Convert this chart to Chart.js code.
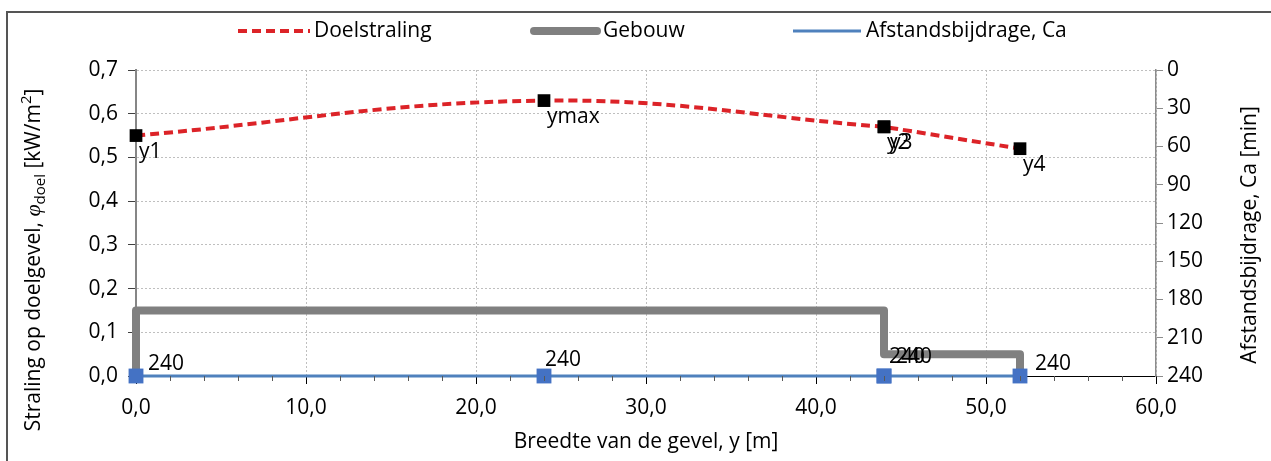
<!DOCTYPE html>
<html>
<head>
<meta charset="utf-8">
<script src="https://cdn.jsdelivr.net/npm/chart.js@4/dist/chart.umd.min.js"></script>
<style>
  html, body { margin: 0; padding: 0; background: #fff; }
  #wrap { width: 1271px; height: 461px; position: relative; }
</style>
</head>
<body>
<div id="wrap"><canvas id="grafiek"></canvas></div>
<script>
// Meetpunten langs de gevel
const breedte = [0, 24, 44, 44, 52];
const puntNamen = ['y1', 'ymax', 'y2', 'y3', 'y4'];
const doelstraling = [0.55, 0.63, 0.57, 0.57, 0.52];
const afstandsbijdrage = [240, 240, 240, 240, 240];

// Contour van het gebouw
const gebouwBreedte = [0, 0, 44, 44, 52, 52];
const gebouwHoogte = [0, 0.15, 0.15, 0.05, 0.05, 0];

// Asverdeling
const xTickWaarden = [0, 10, 20, 30, 40, 50, 60];
const yLinksTickWaarden = [0, 0.1, 0.2, 0.3, 0.4, 0.5, 0.6, 0.7];
const yRechtsTickWaarden = [0, 30, 60, 90, 120, 150, 180, 210, 240];

const FONT = '"Open Sans", Lato, sans-serif';
const FS = 21;
const ROOD = '#DC2328';
const GRIJS = '#808080';
const BLAUW = '#4F81BD';
const BLAUW_MARKER = '#4472C4';

const komma = (v, d) => v.toFixed(d).replace('.', ',');

const doelPunten = breedte.map((x, i) => ({ x, y: doelstraling[i] }));
const caPunten = breedte.map((x, i) => ({ x, y: afstandsbijdrage[i] }));
const gebouwPunten = gebouwBreedte.map((x, i) => ({ x, y: gebouwHoogte[i] }));

// Kader rond de figuur
const kader = {
  id: 'kader',
  beforeDraw(chart) {
    const ctx = chart.ctx;
    ctx.save();
    ctx.fillStyle = '#fff';
    ctx.fillRect(0, 0, chart.width, chart.height);
    ctx.strokeStyle = '#555';
    ctx.lineWidth = 2;
    ctx.beginPath();
    ctx.moveTo(7, chart.height);
    ctx.lineTo(7, 12);
    ctx.lineTo(chart.width, 12);
    ctx.stroke();
    ctx.restore();
  }
};

// Kleine streepjes op de x-as
const hulpStreepjes = {
  id: 'hulpStreepjes',
  afterDraw(chart) {
    const s = chart.scales.x;
    const ctx = chart.ctx;
    ctx.save();
    ctx.strokeStyle = '#595959';
    ctx.lineWidth = 1;
    for (let v = s.min; v <= s.max; v += 2) {
      if (v % 10 === 0) continue;
      const px = Math.round(s.getPixelForValue(v)) + 0.5;
      ctx.beginPath();
      ctx.moveTo(px, s.top);
      ctx.lineTo(px, s.top + 5);
      ctx.stroke();
    }
    ctx.restore();
  }
};

// Labels bij de punten
const puntLabels = {
  id: 'puntLabels',
  afterDatasetsDraw(chart, args, opts) {
    const ctx = chart.ctx;
    ctx.save();
    ctx.font = FS + 'px ' + FONT;
    ctx.fillStyle = '#000';
    ctx.textAlign = 'left';
    ctx.textBaseline = 'alphabetic';
    // namen bij de stralingspunten
    const m0 = chart.getDatasetMeta(0);
    m0.data.forEach((el, i) => {
      let dx = 3;
      if (i > 0 && breedte[i] === breedte[i - 1] && doelstraling[i] === doelstraling[i - 1]) dx += 3;
      ctx.fillText(puntNamen[i], el.x + dx, el.y + 22);
    });
    // waarden bij de afstandsbijdrage
    const m1 = chart.getDatasetMeta(1);
    m1.data.forEach((el, i) => {
      const [dx, dy] = opts.caVerschuiving[i];
      ctx.fillText(String(afstandsbijdrage[i]), el.x + dx, el.y + dy);
    });
    ctx.restore();
  }
};

// Legenda bovenaan
const legenda = {
  id: 'legenda',
  afterDraw(chart) {
    const ctx = chart.ctx;
    const y = 31;
    ctx.save();
    ctx.font = FS + 'px ' + FONT;
    ctx.fillStyle = '#000';
    ctx.textBaseline = 'middle';
    ctx.textAlign = 'left';

    ctx.strokeStyle = ROOD; ctx.lineWidth = 4; ctx.setLineDash([9, 5]);
    ctx.beginPath(); ctx.moveTo(238, y); ctx.lineTo(310, y); ctx.stroke();
    ctx.setLineDash([]);
    ctx.fillText('Doelstraling', 314, y);

    ctx.strokeStyle = GRIJS; ctx.lineWidth = 8; ctx.lineCap = 'round';
    ctx.beginPath(); ctx.moveTo(534, y); ctx.lineTo(597, y); ctx.stroke();
    ctx.lineCap = 'butt';
    ctx.fillText('Gebouw', 603, y);

    ctx.strokeStyle = BLAUW; ctx.lineWidth = 3;
    ctx.beginPath(); ctx.moveTo(793, y); ctx.lineTo(861, y); ctx.stroke();
    ctx.fillText('Afstandsbijdrage, Ca', 866, y);
    ctx.restore();
  }
};

// Astitels van de verticale assen
const asTitels = {
  id: 'asTitels',
  afterDraw(chart) {
    const ctx = chart.ctx;
    const normaal = FS + 'px ' + FONT;
    const klein = '15px ' + FONT;
    const delen = [
      { t: 'Straling op doelgevel, ', f: normaal, dy: 0 },
      { t: 'φ', f: 'italic 22px "Liberation Serif", serif', dy: 0 },
      { t: 'doel', f: klein, dy: 5 },
      { t: ' [kW/m', f: normaal, dy: 0 },
      { t: '2', f: klein, dy: -9 },
      { t: ']', f: normaal, dy: 0 }
    ];
    ctx.save();
    ctx.fillStyle = '#000';
    ctx.textBaseline = 'alphabetic';
    ctx.textAlign = 'left';
    let totaal = 0;
    delen.forEach(d => { ctx.font = d.f; d.w = ctx.measureText(d.t).width; totaal += d.w; });
    ctx.translate(40, 260);
    ctx.rotate(-Math.PI / 2);
    let x = -totaal / 2;
    delen.forEach(d => { ctx.font = d.f; ctx.fillText(d.t, x, d.dy); x += d.w; });
    ctx.restore();

    ctx.save();
    ctx.fillStyle = '#000';
    ctx.font = normaal;
    ctx.textAlign = 'center';
    ctx.textBaseline = 'middle';
    ctx.translate(1250, 235);
    ctx.rotate(-Math.PI / 2);
    ctx.fillText('Afstandsbijdrage, Ca [min]', 0, 0);
    ctx.restore();
  }
};

new Chart(document.getElementById('grafiek'), {
  type: 'scatter',
  data: {
    datasets: [
      {
        label: 'Doelstraling',
        data: doelPunten,
        showLine: true,
        clip: false,
        borderColor: ROOD,
        borderWidth: 4,
        borderDash: [9, 5],
        tension: 0.4,
        pointStyle: 'rect',
        pointRadius: 9,
        pointBackgroundColor: '#000',
        pointBorderColor: '#000',
        pointBorderWidth: 0,
        yAxisID: 'y',
        order: 0
      },
      {
        label: 'Afstandsbijdrage, Ca',
        data: caPunten,
        showLine: true,
        clip: false,
        borderColor: BLAUW,
        borderWidth: 3,
        tension: 0,
        pointStyle: 'rect',
        pointRadius: 10.5,
        pointBackgroundColor: BLAUW_MARKER,
        pointBorderColor: BLAUW_MARKER,
        pointBorderWidth: 0,
        yAxisID: 'y2',
        order: 1
      },
      {
        label: 'Gebouw',
        data: gebouwPunten,
        showLine: true,
        clip: false,
        borderColor: GRIJS,
        borderWidth: 8,
        borderJoinStyle: 'round',
        tension: 0,
        pointRadius: 0,
        yAxisID: 'y',
        order: 2
      }
    ]
  },
  options: {
    responsive: true,
    maintainAspectRatio: false,
    animation: false,
    layout: { padding: { top: 70, left: 0, right: 0, bottom: 0 } },
    plugins: {
      legend: { display: false },
      tooltip: { enabled: false },
      puntLabels: { caVerschuiving: [[12, -6], [1, -10], [5, -13], [12, -13], [15, -6]] }
    },
    scales: {
      x: {
        type: 'linear',
        position: 'bottom',
        min: 0,
        max: 60,
        afterBuildTicks: s => { s.ticks = xTickWaarden.map(v => ({ value: v })); },
        afterFit: s => { s.height = 85; },
        ticks: {
          callback: v => komma(v, 1),
          font: { family: FONT, size: FS },
          color: '#000',
          padding: 11,
          maxRotation: 0,
          autoSkip: false
        },
        grid: { color: '#BFBFBF', lineWidth: 1, tickLength: 8, tickColor: '#000', tickWidth: 1 },
        border: { display: true, color: '#000', width: 1, dash: [2, 2] },
        title: {
          display: true,
          text: 'Breedte van de gevel, y [m]',
          font: { family: FONT, size: FS },
          color: '#000',
          padding: { top: 0, bottom: 6 }
        }
      },
      y: {
        type: 'linear',
        position: 'left',
        min: 0,
        max: 0.7,
        afterBuildTicks: s => { s.ticks = yLinksTickWaarden.map(v => ({ value: v })); },
        afterFit: s => { s.width = 136; },
        ticks: {
          callback: v => komma(v, 1),
          font: { family: FONT, size: FS },
          color: '#000',
          padding: 10
        },
        grid: { color: '#BFBFBF', lineWidth: 1, tickLength: 8, tickColor: '#404040' },
        border: { display: true, color: '#868686', width: 2, dash: [2, 2] }
      },
      y2: {
        type: 'linear',
        position: 'right',
        reverse: true,
        min: 0,
        max: 240,
        afterBuildTicks: s => { s.ticks = yRechtsTickWaarden.map(v => ({ value: v })); },
        afterFit: s => { s.width = 115; },
        ticks: {
          callback: v => String(v),
          font: { family: FONT, size: FS },
          color: '#000',
          padding: 4
        },
        grid: { drawOnChartArea: false, tickLength: 7, tickColor: '#8c8c8c' },
        border: { display: true, color: '#8c8c8c', width: 1.5 }
      }
    }
  },
  plugins: [kader, hulpStreepjes, puntLabels, legenda, asTitels]
});
</script>
</body>
</html>
